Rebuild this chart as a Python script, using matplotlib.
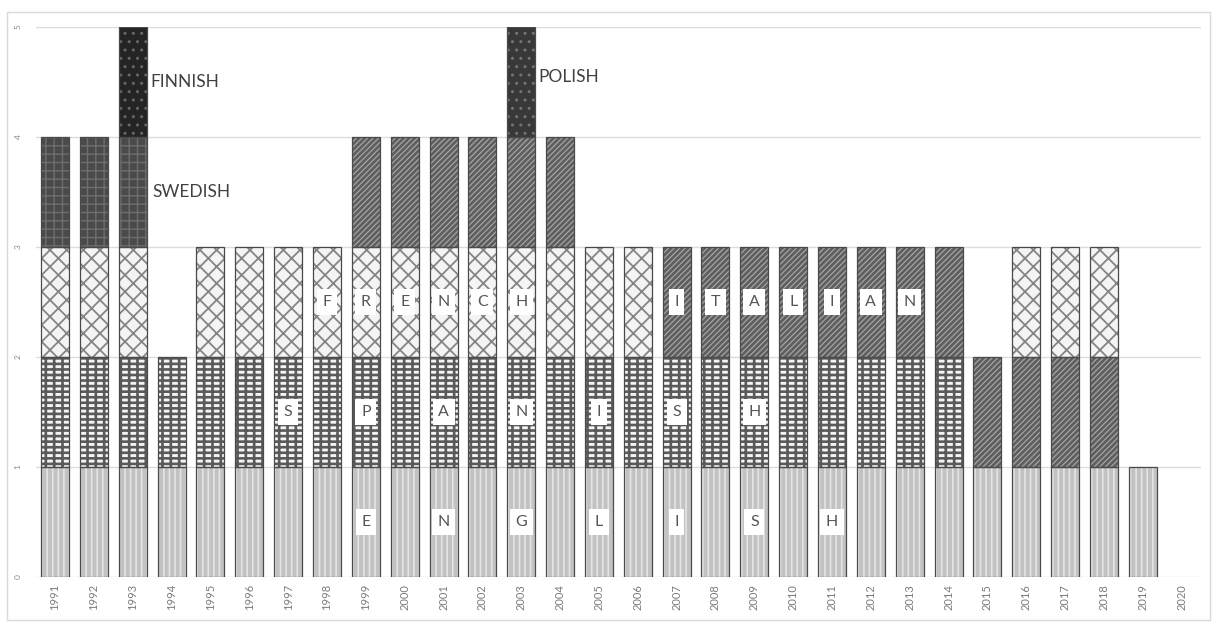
import matplotlib
matplotlib.use('Agg')
import matplotlib.pyplot as plt
from matplotlib.patches import Rectangle
import numpy as np

years = [1991, 1992, 1993, 1994, 1995, 1996, 1997, 1998, 1999, 2000,
         2001, 2002, 2003, 2004, 2005, 2006, 2007, 2008, 2009, 2010,
         2011, 2012, 2013, 2014, 2015, 2016, 2017, 2018, 2019, 2020]

# stacked bottom -> top
english = [1, 1, 1, 1, 1, 1, 1, 1, 1, 1, 1, 1, 1, 1, 1, 1, 1, 1, 1, 1,
           1, 1, 1, 1, 1, 1, 1, 1, 1, 0]
spanish = [1, 1, 1, 1, 1, 1, 1, 1, 1, 1, 1, 1, 1, 1, 1, 1, 1, 1, 1, 1,
           1, 1, 1, 1, 0, 0, 0, 0, 0, 0]
italian = [0, 0, 0, 0, 0, 0, 0, 0, 0, 0, 0, 0, 0, 0, 0, 0, 1, 1, 1, 1,
           1, 1, 1, 1, 1, 1, 1, 1, 0, 0]
french = [1, 1, 1, 0, 1, 1, 1, 1, 1, 1, 1, 1, 1, 1, 1, 1, 0, 0, 0, 0,
          0, 0, 0, 0, 0, 1, 1, 1, 0, 0]
unnamed = [0, 0, 0, 0, 0, 0, 0, 0, 1, 1, 1, 1, 1, 1, 0, 0, 0, 0, 0, 0,
           0, 0, 0, 0, 0, 0, 0, 0, 0, 0]
swedish = [1, 1, 1, 0, 0, 0, 0, 0, 0, 0, 0, 0, 0, 0, 0, 0, 0, 0, 0, 0,
           0, 0, 0, 0, 0, 0, 0, 0, 0, 0]
finnish = [0, 0, 1, 0, 0, 0, 0, 0, 0, 0, 0, 0, 0, 0, 0, 0, 0, 0, 0, 0,
           0, 0, 0, 0, 0, 0, 0, 0, 0, 0]
polish = [0, 0, 0, 0, 0, 0, 0, 0, 0, 0, 0, 0, 1, 0, 0, 0, 0, 0, 0, 0,
          0, 0, 0, 0, 0, 0, 0, 0, 0, 0]

# letters written across the bars
english_letters = ['E', 'N', 'G', 'L', 'I', 'S', 'H']
english_letter_years = [1999, 2001, 2003, 2005, 2007, 2009, 2011]
spanish_letters = ['S', 'P', 'A', 'N', 'I', 'S', 'H']
spanish_letter_years = [1997, 1999, 2001, 2003, 2005, 2007, 2009]
french_letters = ['F', 'R', 'E', 'N', 'C', 'H']
french_letter_years = [1998, 1999, 2000, 2001, 2002, 2003]
italian_letters = ['I', 'T', 'A', 'L', 'I', 'A', 'N']
italian_letter_years = [2007, 2008, 2009, 2010, 2011, 2012, 2013]

plt.rcParams['font.family'] = ['Lato', 'DejaVu Sans']

fig = plt.figure(figsize=(12.12, 6.24), dpi=100)
ax = fig.add_axes([0.0294, 0.0753, 0.9616, 0.8814])

# (values, face, hatch, hatch colour, hatch linewidth)
series = [
    (english, '#c2c2c2', '|||', '#e4e4e4', 1.2),
    (spanish, '#f4f4f4', '---||', '#5a5a5a', 1.9),
    (italian, '#5e5e5e', '//////', '#a4a4a4', 0.9),
    (french, '#f4f4f4', 'xx', '#858585', 1.3),
    (unnamed, '#5e5e5e', '//////', '#a4a4a4', 0.9),
    (swedish, '#4a4a4a', '++', '#6e6e6e', 1.0),
    (finnish, '#242424', '..', '#666666', 1.0),
    (polish, '#383838', '..', '#747474', 1.0),
]

width = 0.72
bottom = np.zeros(len(years))
x = np.array(years)
for vals, face, hatch, hcol, hlw in series:
    vals = np.array(vals)
    m = vals > 0
    ax.bar(x[m], vals[m], width, bottom=bottom[m], color=face, linewidth=0, zorder=2)
    with plt.rc_context({'hatch.linewidth': hlw}):
        ax.bar(x[m], vals[m], width, bottom=bottom[m], facecolor='none', edgecolor=hcol,
               hatch=hatch, linewidth=0, zorder=3)
    ax.bar(x[m], vals[m], width, bottom=bottom[m], facecolor='none', edgecolor='#4a4a4a',
           linewidth=0.9, zorder=4)
    bottom = bottom + vals

def letter_row(letters, yrs, level):
    for ch, yr in zip(letters, yrs):
        ax.text(yr, level, ch, ha='center', va='center', fontsize=11.5, color='#555555',
                zorder=6, bbox=dict(boxstyle='square,pad=0.35', facecolor='white',
                                    edgecolor='none'))

letter_row(english_letters, english_letter_years, 0.5)
letter_row(spanish_letters, spanish_letter_years, 1.5)
letter_row(french_letters, french_letter_years, 2.5)
letter_row(italian_letters, italian_letter_years, 2.5)

ax.text(1993.45, 4.5, 'FINNISH', fontsize=12.5, color='#404040', va='center', ha='left')
ax.text(1993.5, 3.5, 'SWEDISH', fontsize=12.5, color='#404040', va='center', ha='left')
ax.text(2003.45, 4.55, 'POLISH', fontsize=12.5, color='#404040', va='center', ha='left')

ax.set_xlim(1990.5, 2020.5)
ax.set_ylim(0, 5)
ax.set_xticks(years)
ax.set_xticklabels([str(y) for y in years], rotation=90, fontsize=8, color='#7a7a7a')
ax.set_yticks([0, 1, 2, 3, 4, 5])
ax.set_yticklabels(['0', '1', '2', '3', '4', '5'], rotation=90, fontsize=6,
                   color='#8a8a8a', va='center')
ax.tick_params(length=0, pad=10)
ax.tick_params(axis='x', pad=5)
ax.grid(axis='y', color='#dcdcdc', linewidth=1, zorder=0)
ax.set_axisbelow(True)
for s in ax.spines.values():
    s.set_visible(False)

fig.patches.append(Rectangle((0.006, 0.006), 0.992, 0.975, transform=fig.transFigure,
                             fill=False, edgecolor='#d9d9d9', linewidth=1))

fig.savefig('out.png', dpi=100)
